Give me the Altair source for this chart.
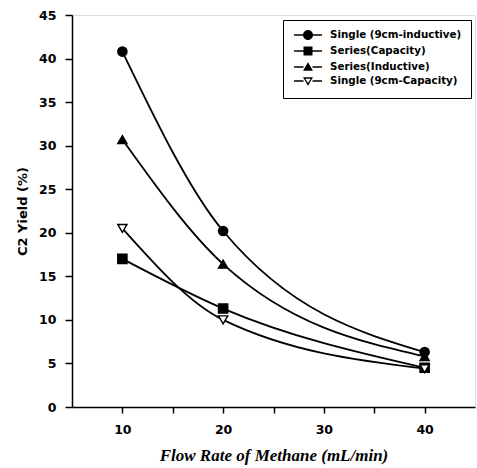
import altair as alt
import pandas as pd

series = ["Single (9cm-inductive)", "Series(Capacity)", "Series(Inductive)", "Single (9cm-Capacity)"]
flow = [10, 20, 40]
y_single_ind = [40.8, 20.2, 6.3]
y_series_cap = [17.0, 11.3, 4.5]
y_series_ind = [30.7, 16.4, 5.8]
y_single_cap = [20.5, 10.0, 4.4]

shapes = ["circle", "square", "triangle-up", "triangle-down"]
fills = ["black", "black", "black", "white"]

rows = []
for name, ys in zip(series, [y_single_ind, y_series_cap, y_series_ind, y_single_cap]):
    for x, y in zip(flow, ys):
        rows.append({"series": name, "key": name, "flow": x, "yield": y})
df = pd.DataFrame(rows)

# legend symbols (fill only): line segments as thin bars plus marker; unit = sqrt(size)/2 px
seg = "M-2.8,-0.17H-0.9V0.17H-2.8ZM0.9,-0.17H2.8V0.17H0.9Z"
leg_paths = [
    seg + "M1,0A1,1,0,1,1,-1,0A1,1,0,1,1,1,0Z",
    seg + "M-0.9,-0.9H0.9V0.9H-0.9Z",
    seg + "M0,-0.95L1,0.75L-1,0.75Z",
    seg + "M0,0.95L1,-0.75L-1,-0.75ZM0,0.38L-0.55,-0.45L0.55,-0.45Z",
]

xscale = alt.Scale(domain=[5, 45], nice=False, zero=False)
yscale = alt.Scale(domain=[0, 45], nice=False)

LF = "DejaVu Sans"

xaxis = alt.Axis(
    values=[10, 15, 20, 25, 30, 35, 40],
    labelExpr="datum.value % 10 == 0 ? datum.label : ''",
    grid=False, tickSize=6, tickColor="black", tickWidth=1.5, domainColor="black", domainWidth=1.5,
    labelFont=LF, labelFontWeight="bold", labelFontSize=12.5, labelColor="black",
    labelPadding=10,
    title="Flow Rate of Methane (mL/min)", titleFont="Liberation Serif", titleFontStyle="italic",
    titleFontWeight="bold", titleFontSize=17, titleColor="black", titlePadding=12,
)
yaxis = alt.Axis(
    values=list(range(0, 50, 5)), grid=False, tickSize=7, tickColor="black", tickWidth=1.5,
    domainColor="black", domainWidth=1.5,
    labelFont=LF, labelFontWeight="bold", labelFontSize=12.5, labelColor="black", labelPadding=9,
    title="C2 Yield (%)", titleFont=LF, titleFontWeight="bold",
    titleFontSize=13, titleColor="black", titlePadding=9,
)

base = alt.Chart(df)

legend_layer = base.transform_filter("false").mark_point(
    filled=True, color="black", opacity=1
).encode(
    x=alt.X("flow:Q", scale=xscale, axis=xaxis),
    y=alt.Y("yield:Q", scale=yscale, axis=yaxis),
    shape=alt.Shape("key:N", scale=alt.Scale(domain=series, range=leg_paths),
                    legend=alt.Legend(
                        title=None, orient="none", legendX=211, legendY=5,
                        strokeColor="black", fillColor="white", padding=9,
                        symbolSize=100, labelOffset=16, symbolOffset=10,
                        symbolFillColor="black", symbolOpacity=1,
                        labelFont=LF, labelFontWeight="bold",
                        labelFontSize=10.3, labelColor="black", rowPadding=0,
                        labelLimit=300,
                    )),
)

lines = base.mark_line(color="black", strokeWidth=1.8, interpolate="monotone").encode(
    x=alt.X("flow:Q", scale=xscale),
    y=alt.Y("yield:Q", scale=yscale),
    detail="series:N",
)

points = base.mark_point(filled=True, stroke="black", strokeWidth=1.4, size=85, opacity=1).encode(
    x=alt.X("flow:Q", scale=xscale),
    y=alt.Y("yield:Q", scale=yscale),
    shape=alt.Shape("series:N", scale=alt.Scale(domain=series, range=shapes), legend=None),
    fill=alt.Fill("series:N", scale=alt.Scale(domain=series, range=fills), legend=None),
)

chart = alt.layer(legend_layer, lines, points).resolve_scale(
    shape="independent"
).properties(
    width=403, height=392,
    autosize=alt.AutoSizeParams(type="none"),
    padding={"left": 72, "top": 15, "right": 2, "bottom": 61},
).configure_view(stroke="black", strokeWidth=1.5).configure(background="white")

chart.save("out.html", embed_options={"renderer": "svg", "actions": False})
